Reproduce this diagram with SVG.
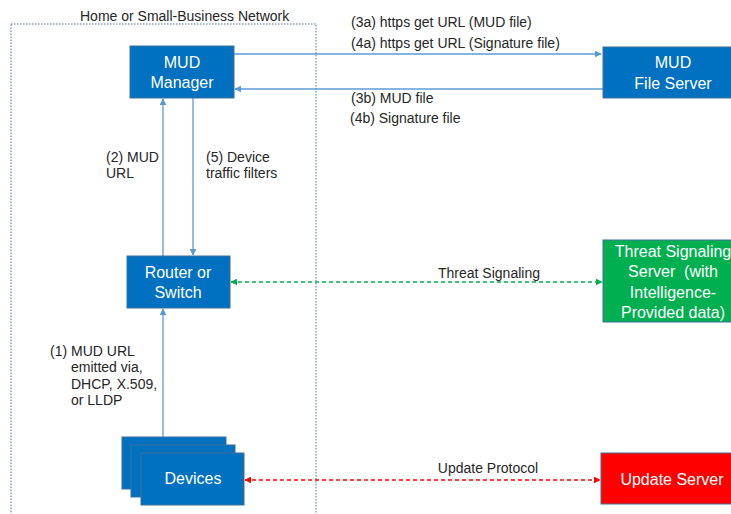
<svg xmlns="http://www.w3.org/2000/svg" width="731" height="514" viewBox="0 0 731 514">
<style>
text{font-family:"Liberation Sans",Arial,sans-serif}
.lbl{font-size:14px;fill:#262626}
.bx{font-size:16px;fill:#ffffff;text-anchor:middle}
.blue{fill:#0070C0;stroke:#41719C;stroke-width:1}
.ln{stroke:#5B9BD5;stroke-width:1.3;fill:none}
</style>
<defs>
<marker id="ab" viewBox="0 0 10 10" refX="9" refY="5" markerWidth="7" markerHeight="7" markerUnits="userSpaceOnUse" orient="auto-start-reverse"><path d="M0,0L10,5L0,10z" fill="#5B9BD5"/></marker>
<marker id="ag" viewBox="0 0 10 10" refX="9" refY="5" markerWidth="7" markerHeight="7" markerUnits="userSpaceOnUse" orient="auto-start-reverse"><path d="M0,0L10,5L0,10z" fill="#00B050"/></marker>
<marker id="ar" viewBox="0 0 10 10" refX="9" refY="5" markerWidth="7" markerHeight="7" markerUnits="userSpaceOnUse" orient="auto-start-reverse"><path d="M0,0L10,5L0,10z" fill="#FF0000"/></marker>
</defs>
<rect width="731" height="514" fill="#ffffff"/>
<g id="network">
<rect x="11" y="24" width="305" height="500" fill="none" stroke="#44709C" stroke-width="1" stroke-dasharray="1.5,1.5"/>
<text class="lbl" x="80" y="21">Home or Small-Business Network</text>
</g>
<g id="connectors">
<line class="ln" x1="234" y1="54" x2="601" y2="54" marker-end="url(#ab)"/>
<line class="ln" x1="603" y1="89" x2="235" y2="89" marker-end="url(#ab)"/>
<line class="ln" x1="163" y1="256" x2="163" y2="99" marker-end="url(#ab)"/>
<line class="ln" x1="193" y1="98" x2="193" y2="255" marker-end="url(#ab)"/>
<line class="ln" x1="163" y1="437" x2="163" y2="309" marker-end="url(#ab)"/>
<line x1="231" y1="282" x2="602" y2="282" stroke="#00B050" stroke-width="1.3" stroke-dasharray="4,3" marker-start="url(#ag)" marker-end="url(#ag)"/>
<line x1="245" y1="480" x2="600" y2="480" stroke="#FF0000" stroke-width="1.3" stroke-dasharray="4,3" marker-start="url(#ar)" marker-end="url(#ar)"/>
<text class="lbl" x="351" y="27">(3a) https get URL (MUD file)</text>
<text class="lbl" x="351" y="48">(4a) https get URL (Signature file)</text>
<text class="lbl" x="351" y="103">(3b) MUD file</text>
<text class="lbl" x="350" y="123">(4b) Signature file</text>
<text class="lbl" x="106" y="162">(2) MUD</text>
<text class="lbl" x="106" y="178">URL</text>
<text class="lbl" x="206" y="162">(5) Device</text>
<text class="lbl" x="206" y="178">traffic filters</text>
<text class="lbl" x="50" y="356">(1) MUD URL</text>
<text class="lbl" x="71" y="372">emitted via,</text>
<text class="lbl" x="71" y="389">DHCP, X.509,</text>
<text class="lbl" x="71" y="405">or LLDP</text>
<text class="lbl" x="489" y="278" text-anchor="middle">Threat Signaling</text>
<text class="lbl" x="488" y="473" text-anchor="middle">Update Protocol</text>
</g>
<g id="mud-manager">
<rect class="blue" x="130" y="46" width="104" height="52"/>
<text class="bx" x="182" y="68">MUD</text>
<text class="bx" x="182" y="88">Manager</text>
</g>
<g id="mud-file-server">
<rect class="blue" x="603" y="47" width="140" height="51"/>
<text class="bx" x="673" y="68">MUD</text>
<text class="bx" x="673" y="89">File Server</text>
</g>
<g id="router">
<rect class="blue" x="127" y="256" width="103" height="52"/>
<text class="bx" x="178" y="278">Router or</text>
<text class="bx" x="178" y="298">Switch</text>
</g>
<g id="threat-server">
<rect x="603" y="240" width="140" height="82" fill="#00B050" stroke="#41719C" stroke-width="1"/>
<text class="bx" x="673" y="257">Threat Signaling</text>
<text class="bx" x="673" y="277" xml:space="preserve">Server  (with</text>
<text class="bx" x="673" y="298">Intelligence-</text>
<text class="bx" x="673" y="318">Provided data)</text>
</g>
<g id="devices">
<rect class="blue" x="122" y="437" width="104" height="52"/>
<rect class="blue" x="131" y="445" width="104" height="52"/>
<rect class="blue" x="141" y="453" width="103" height="52"/>
<text class="bx" x="193" y="484">Devices</text>
</g>
<g id="update-server">
<rect x="601" y="453" width="140" height="51" fill="#FF0000" stroke="#41719C" stroke-width="1"/>
<text class="bx" x="672" y="485">Update Server</text>
</g>
</svg>
